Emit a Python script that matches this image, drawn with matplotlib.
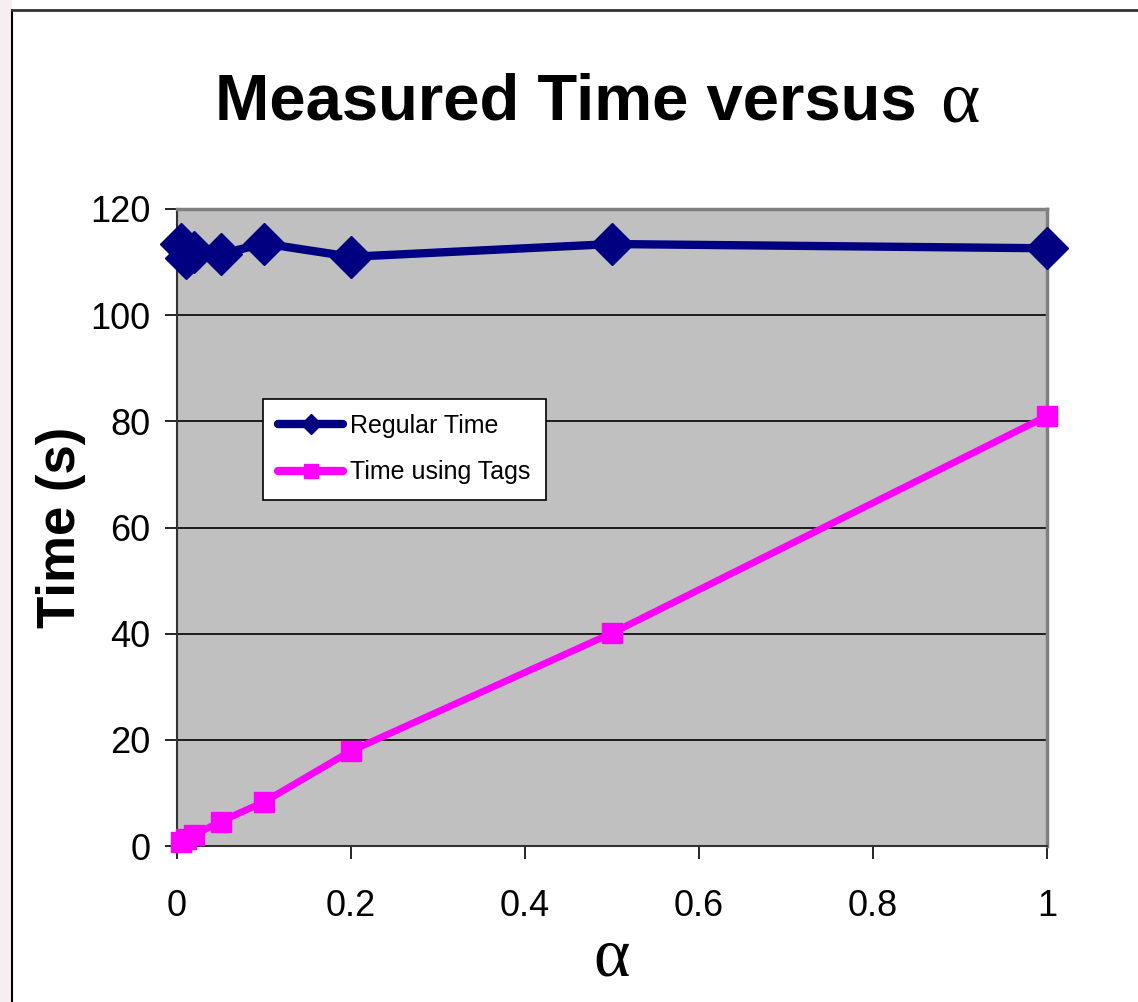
import matplotlib
matplotlib.use('Agg')
import matplotlib.pyplot as plt
from matplotlib.lines import Line2D

# values
alpha = [0.005, 0.01, 0.02, 0.05, 0.1, 0.2, 0.5, 1.0]
regular_time = [113.5, 110.7, 111.9, 111.5, 113.5, 111.0, 113.4, 112.6]
tags_time = [0.8, 1.4, 2.1, 4.6, 8.3, 17.9, 40.1, 81.0]

xticks = [0, 0.2, 0.4, 0.6, 0.8, 1]
xticklabels = ['0', '0.2', '0.4', '0.6', '0.8', '1']
yticks = [0, 20, 40, 60, 80, 100, 120]

plt.rcParams['font.family'] = ['Liberation Sans', 'DejaVu Sans']

fig = plt.figure(figsize=(11.38, 10.02), dpi=100)
fig.patch.set_facecolor('white')

# faint slide background on the left and the chart area border
fig.patches.append(plt.Rectangle((0, 0), 12 / 1138, 1, transform=fig.transFigure,
                                 facecolor='#f6eff1', edgecolor='none', zorder=0))
fig.lines.append(Line2D([12 / 1138, 12 / 1138], [0, 1 - 10 / 1002], transform=fig.transFigure,
                        color='black', lw=1.5))
fig.lines.append(Line2D([12 / 1138, 1], [1 - 10 / 1002, 1 - 10 / 1002], transform=fig.transFigure,
                        color='#333333', lw=2))

ax = fig.add_axes([177 / 1138, 1 - 846 / 1002, 870 / 1138, 637 / 1002])
ax.set_facecolor('#c0c0c0')

ax.plot(alpha, regular_time, color='#000080', lw=6, marker='D', markersize=21,
        clip_on=False, zorder=4, label='Regular Time')
ax.plot(alpha, tags_time, color='#ff00ff', lw=5, marker='s', markersize=14,
        clip_on=False, zorder=3, label='Time using Tags')

ax.set_xlim(0, 1)
ax.set_ylim(0, 120)
ax.set_xticks(xticks)
ax.set_xticklabels(xticklabels, fontsize=26)
ax.set_yticks(yticks)
ax.set_yticklabels([str(v) for v in yticks], fontsize=26)
ax.tick_params(axis='both', direction='out', length=9, width=1.2, color='black')
ax.tick_params(axis='x', pad=22)
ax.tick_params(axis='y', pad=10)

ax.yaxis.grid(True, color='black', lw=1.2)
ax.set_axisbelow(True)
for s in ['top', 'right']:
    ax.spines[s].set_color('#808080')
    ax.spines[s].set_linewidth(2.5)
for s in ['left', 'bottom']:
    ax.spines[s].set_color('#333333')
    ax.spines[s].set_linewidth(1.5)

ax.set_ylabel('Time (s)', fontsize=38, fontweight='bold', labelpad=3)
ax.set_xlabel('\u03b1', fontsize=50, family='Liberation Serif', labelpad=2)

fig.text(215 / 1138, 1 - 102 / 1002, 'Measured Time versus', fontsize=47, fontweight='bold',
         ha='left', va='center')
fig.text(940 / 1138, 1 - 104 / 1002, '\u03b1', fontsize=54, family='Liberation Serif',
         ha='left', va='center')

handles = [
    Line2D([], [], color='#000080', lw=6, marker='D', markersize=10, solid_capstyle='round'),
    Line2D([], [], color='#ff00ff', lw=6, marker='s', markersize=10, solid_capstyle='round'),
]
leg = ax.legend(handles, ['Regular Time', 'Time using Tags'], fontsize=18,
                loc='upper left', bbox_to_anchor=(86 / 870, 1 - 190 / 637),
                fancybox=False, framealpha=1, edgecolor='black',
                handlelength=2.6, handletextpad=0.3, borderpad=0.6, labelspacing=0.9,
                borderaxespad=0)
leg.get_frame().set_linewidth(1.2)

fig.savefig('out.png', dpi=100)
